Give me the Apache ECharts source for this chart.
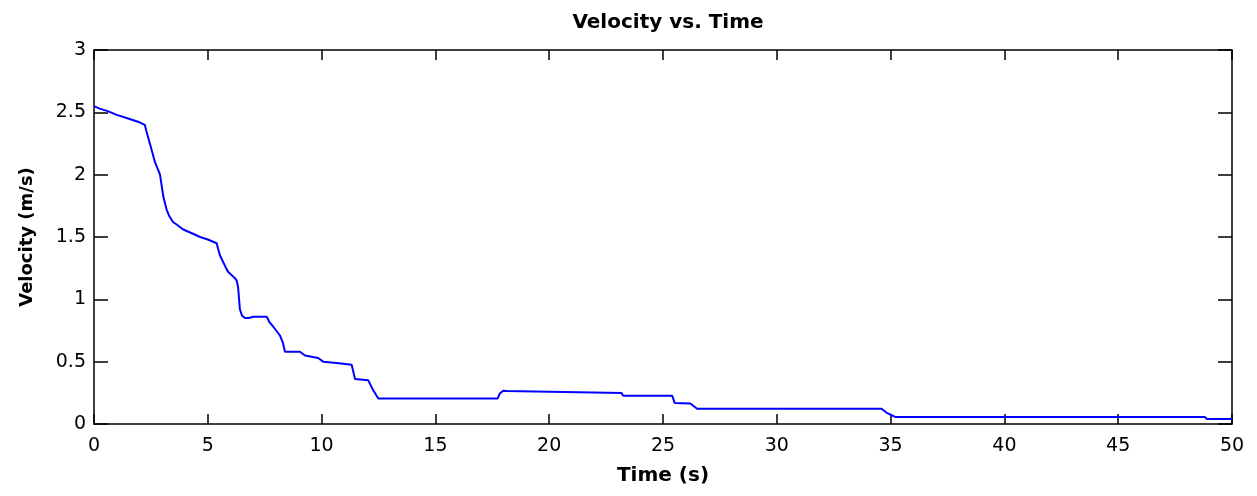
<!DOCTYPE html>
<html>
<head>
<meta charset="utf-8">
<script src="https://cdn.jsdelivr.net/npm/echarts@6/dist/echarts.min.js"></script>
<style>
  html, body { margin: 0; padding: 0; background: #fff; }
  #chart { width: 1257px; height: 496px; }
</style>
</head>
<body>
<div id="chart"></div>
<script>
// Time samples (s)
const timeS = [0, 0.25, 0.6, 1.0, 1.5, 2.0, 2.23, 2.3, 2.5, 2.68, 2.9, 3.05, 3.19, 3.3, 3.47,
  3.63, 3.92, 4.3, 4.66, 5.0, 5.39, 5.46, 5.54, 5.83, 5.9, 6.19, 6.27, 6.33, 6.41, 6.5,
  6.63, 6.8, 7.0, 7.59, 7.7, 7.88, 8.17, 8.3, 8.39, 9.05, 9.27, 9.85, 10.07, 10.66, 10.73,
  11.32, 11.47, 12.05, 12.27, 12.49, 17.74, 17.83, 17.98, 18.13, 18.2, 23.18, 23.25, 25.4,
  25.52, 26.2, 26.5, 34.6, 34.83, 35.2, 48.8, 48.9, 50];
// Velocity samples (m/s)
const velocity = [2.55, 2.53, 2.51, 2.48, 2.45, 2.42, 2.40, 2.35, 2.22, 2.10, 2.00, 1.82, 1.72, 1.67, 1.62,
  1.60, 1.56, 1.53, 1.50, 1.48, 1.45, 1.40, 1.35, 1.24, 1.22, 1.17, 1.15, 1.10, 0.92, 0.87,
  0.85, 0.85, 0.86, 0.86, 0.82, 0.78, 0.71, 0.65, 0.58, 0.58, 0.55, 0.53, 0.50, 0.49, 0.475,
  0.475, 0.36, 0.35, 0.27, 0.205, 0.205, 0.245, 0.267, 0.265, 0.249, 0.249, 0.227, 0.227,
  0.168, 0.165, 0.122, 0.122, 0.09, 0.057, 0.057, 0.04, 0.04];

const xMin = 0, xMax = 50, xStep = 5;
const yMin = 0, yMax = 3, yStep = 0.5;

const font = '"DejaVu Sans", "Liberation Sans", Arial, sans-serif';
const black = '#000';

const chart = echarts.init(document.getElementById('chart'));

// Shared look for all four box edges; ticks point into the plot.
function axisBase(tickLen, extra) {
  return Object.assign({
    type: 'value',
    axisLine: { show: true, onZero: false, lineStyle: { color: black, width: 1.5 } },
    axisTick: { show: true, inside: true, length: tickLen, lineStyle: { color: black, width: 1.5 } },
    splitLine: { show: false },
    axisLabel: { show: false }
  }, extra);
}

const tickLabel = (margin) => ({ show: true, color: black, fontFamily: font, fontSize: 19, margin: margin });

chart.setOption({
  animation: false,
  backgroundColor: '#fff',
  title: {
    text: 'Velocity vs. Time',
    left: 663,
    textAlign: 'center',
    top: 8,
    textStyle: { color: black, fontFamily: font, fontSize: 20, fontWeight: 'bold' }
  },
  grid: { left: 94, right: 25, top: 50, bottom: 72 },
  xAxis: [
    axisBase(10, {
      min: xMin, max: xMax, interval: xStep, position: 'bottom',
      axisLabel: tickLabel(13),
      name: 'Time (s)', nameLocation: 'middle', nameGap: 42,
      nameTextStyle: { color: black, fontFamily: font, fontSize: 20, fontWeight: 'bold' }
    }),
    axisBase(10, { min: xMin, max: xMax, interval: xStep, position: 'top' })
  ],
  yAxis: [
    axisBase(14, {
      min: yMin, max: yMax, interval: yStep, position: 'left',
      axisLabel: tickLabel(8),
      name: 'Velocity (m/s)', nameLocation: 'middle', nameGap: 58,
      nameTextStyle: { color: black, fontFamily: font, fontSize: 18, fontWeight: 'bold' }
    }),
    axisBase(14, { min: yMin, max: yMax, interval: yStep, position: 'right' })
  ],
  series: [{
    type: 'line',
    xAxisIndex: 0,
    yAxisIndex: 0,
    data: timeS.map((t, i) => [t, velocity[i]]),
    showSymbol: false,
    lineStyle: { color: '#0000ff', width: 2 },
    itemStyle: { color: '#0000ff' }
  }]
});
</script>
</body>
</html>
